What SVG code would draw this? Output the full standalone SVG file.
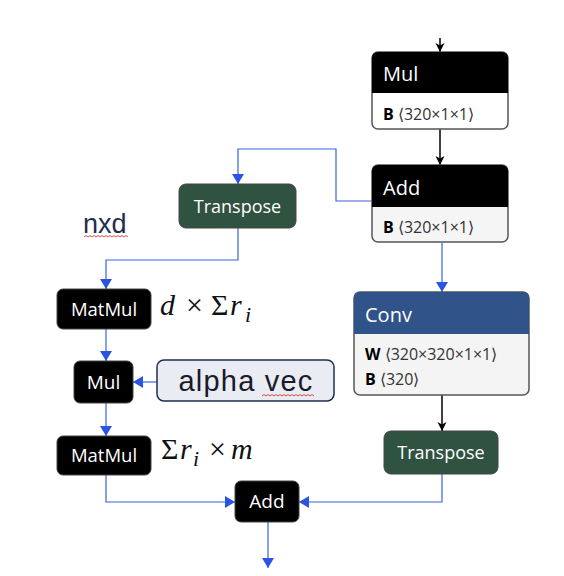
<svg xmlns="http://www.w3.org/2000/svg" width="564" height="576" viewBox="0 0 564 576">
<style>
.t{font-family:"Open Sans","Noto Sans","Liberation Sans",sans-serif;fill:#fff}
.a{font-family:"Open Sans","Noto Sans","Liberation Sans",sans-serif;font-size:16px;fill:#333}
.ab{font-weight:bold;fill:#000}
.blk{stroke:#000;stroke-width:1.5;fill:none}
.blu{stroke:#3a63dc;stroke-width:1.2;fill:none}
.m{font-family:"Liberation Serif","DejaVu Serif",serif;fill:#111;font-size:30px}
.i{font-style:italic}
.sq{stroke:#e02020;stroke-width:0.8;fill:none}
</style>
<defs>
<marker id="ak" markerWidth="10" markerHeight="10" refX="9" refY="4.5" orient="auto" markerUnits="userSpaceOnUse" viewBox="0 0 10 10">
<path d="M0,0 L9,4.5 L0,9 L2.5,4.5 Z" fill="#000"/>
</marker>
<marker id="ab" markerWidth="12" markerHeight="12" refX="10" refY="6" orient="auto" markerUnits="userSpaceOnUse" viewBox="0 0 12 12">
<path d="M0,0 L10,6 L0,12 Z" fill="#2b55e0"/>
</marker>
</defs>
<g id="connectors">
<line class="blk" x1="440" y1="38" x2="440" y2="52" marker-end="url(#ak)"/>
<line class="blk" x1="440" y1="129" x2="440" y2="165" marker-end="url(#ak)"/>
<line class="blu" x1="442" y1="243" x2="442" y2="292" marker-end="url(#ab)"/>
<line class="blk" x1="442" y1="395" x2="442" y2="431" marker-end="url(#ak)"/>
<polyline class="blu" points="372,201 336,201 336,149 238,149 238,184" marker-end="url(#ab)"/>
<polyline class="blu" points="238,228 238,260 106,260 106,289" marker-end="url(#ab)"/>
<line class="blu" x1="106" y1="329" x2="106" y2="361" marker-end="url(#ab)"/>
<line class="blu" x1="157" y1="382" x2="133" y2="382" marker-end="url(#ab)"/>
<line class="blu" x1="106" y1="403" x2="106" y2="436" marker-end="url(#ab)"/>
<polyline class="blu" points="106,475 106,502 235,502" marker-end="url(#ab)"/>
<polyline class="blu" points="442,474 442,502 299,502" marker-end="url(#ab)"/>
<line class="blu" x1="268" y1="522" x2="268" y2="568" marker-end="url(#ab)"/>
</g>
<g id="mul_top">
<rect x="372" y="52" width="136" height="77" rx="6" fill="#fff" stroke="#555" stroke-width="1.5"/>
<path d="M372,93 V58 a6,6 0 0 1 6,-6 H502 a6,6 0 0 1 6,6 V93 Z" fill="#000"/>
<text class="t" x="383" y="81" font-size="20">Mul</text>
<text class="a" x="383" y="120"><tspan class="ab">B</tspan> ⟨320×1×1⟩</text>
</g>
<g id="add_top">
<rect x="372" y="165" width="136" height="77" rx="6" fill="#f5f5f5" stroke="#555" stroke-width="1.5"/>
<path d="M372,207 V171 a6,6 0 0 1 6,-6 H502 a6,6 0 0 1 6,6 V207 Z" fill="#000"/>
<text class="t" x="383" y="195" font-size="20">Add</text>
<text class="a" x="383" y="233"><tspan class="ab">B</tspan> ⟨320×1×1⟩</text>
</g>
<g id="conv">
<rect x="354" y="292" width="175" height="103" rx="6" fill="#f4f4f4" stroke="#555" stroke-width="1.5"/>
<path d="M354,334 V298 a6,6 0 0 1 6,-6 H523 a6,6 0 0 1 6,6 V334 Z" fill="#30538a"/>
<text class="t" x="365" y="322" font-size="20">Conv</text>
<text class="a" x="365" y="360"><tspan class="ab">W</tspan> ⟨320×320×1×1⟩</text>
<text class="a" x="365" y="385"><tspan class="ab">B</tspan> ⟨320⟩</text>
</g>
<g id="transpose_right">
<rect x="384" y="431" width="114" height="43" rx="7" fill="#305241" stroke="#444" stroke-width="1"/>
<text class="t" x="441" y="459" font-size="18" text-anchor="middle">Transpose</text>
</g>
<g id="transpose_left">
<rect x="179" y="184" width="117" height="44" rx="7" fill="#305241" stroke="#444" stroke-width="1"/>
<text class="t" x="237.5" y="213" font-size="18" text-anchor="middle">Transpose</text>
</g>
<g id="nxd">
<text x="83" y="233" font-family="Liberation Sans,Arial,sans-serif" font-size="27" fill="#1f2d50">nxd</text>
<path class="sq" d="M84,237 l2,-1.5 2,1.5 2,-1.5 2,1.5 2,-1.5 2,1.5 2,-1.5 2,1.5 2,-1.5 2,1.5 2,-1.5 2,1.5 2,-1.5 2,1.5 2,-1.5 2,1.5 2,-1.5 2,1.5 2,-1.5 2,1.5 2,-1.5 2,1.5"/>
</g>
<g id="matmul1">
<rect x="57" y="289" width="94" height="40" rx="6" fill="#000" stroke="#444" stroke-width="1"/>
<text class="t" x="104" y="316" font-size="18.5" text-anchor="middle">MatMul</text>
</g>
<text class="m"><tspan class="i" x="160" y="315">d</tspan><tspan x="186" y="315">×</tspan><tspan x="211" y="315">Σ</tspan><tspan class="i" x="230" y="315">r</tspan><tspan class="i" x="245" y="322" font-size="22">i</tspan></text>
<g id="mul_left">
<rect x="74" y="361" width="59" height="42" rx="6" fill="#000" stroke="#444" stroke-width="1"/>
<text class="t" x="103.5" y="389" font-size="19" text-anchor="middle">Mul</text>
</g>
<g id="alpha_vec">
<rect x="157" y="360" width="177" height="41" rx="7" fill="#e9ecf2" stroke="#1f2d50" stroke-width="1.5"/>
<text x="246" y="391" font-family="Liberation Sans,Arial,sans-serif" font-size="29" letter-spacing="1.2" fill="#1a1a2a" text-anchor="middle">alpha vec</text>
<path class="sq" d="M262,396 l2,-1.5 2,1.5 2,-1.5 2,1.5 2,-1.5 2,1.5 2,-1.5 2,1.5 2,-1.5 2,1.5 2,-1.5 2,1.5 2,-1.5 2,1.5 2,-1.5 2,1.5 2,-1.5 2,1.5 2,-1.5 2,1.5 2,-1.5 2,1.5 2,-1.5 2,1.5 2,-1.5 2,1.5"/>
</g>
<g id="matmul2">
<rect x="57" y="436" width="94" height="39" rx="6" fill="#000" stroke="#444" stroke-width="1"/>
<text class="t" x="104" y="462" font-size="18.5" text-anchor="middle">MatMul</text>
</g>
<text class="m"><tspan x="161" y="459">Σ</tspan><tspan class="i" x="180" y="459">r</tspan><tspan class="i" x="193" y="466" font-size="22">i</tspan><tspan x="209" y="459">×</tspan><tspan class="i" x="231" y="459">m</tspan></text>
<g id="add_bottom">
<rect x="235" y="481" width="64" height="41" rx="6" fill="#000" stroke="#444" stroke-width="1"/>
<text class="t" x="267" y="508" font-size="19" text-anchor="middle">Add</text>
</g>
</svg>
